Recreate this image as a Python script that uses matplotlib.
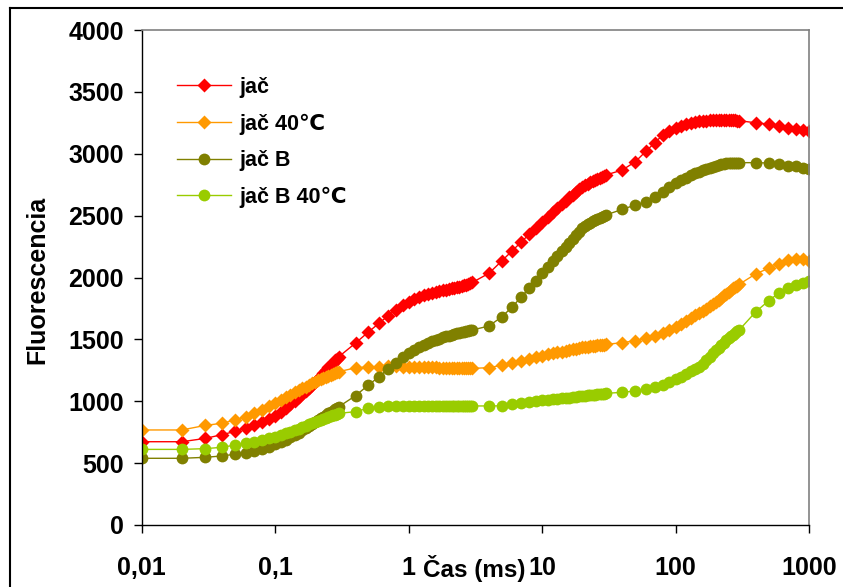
import matplotlib
matplotlib.use("Agg")
import matplotlib.pyplot as plt
from matplotlib.lines import Line2D

plt.rcParams['font.family'] = ['Liberation Sans', 'DejaVu Sans']
plt.rcParams['font.weight'] = 'bold'

# time points (ms)
cas = [0.01, 0.02, 0.03, 0.04, 0.05, 0.06, 0.07, 0.08, 0.09, 0.10,
       0.11, 0.12, 0.13, 0.14, 0.15, 0.16, 0.17, 0.18, 0.19, 0.20,
       0.21, 0.22, 0.23, 0.24, 0.25, 0.26, 0.27, 0.28, 0.29, 0.30,
       0.4, 0.5, 0.6, 0.7, 0.8, 0.9, 1.0, 1.1, 1.2, 1.3, 1.4, 1.5, 1.6, 1.7,
       1.8, 1.9, 2.0, 2.1, 2.2, 2.3, 2.4, 2.5, 2.6, 2.7, 2.8, 2.9, 3.0,
       4, 5, 6, 7, 8, 9, 10, 11, 12, 13, 14, 15, 16, 17, 18, 19, 20,
       21, 22, 23, 24, 25, 26, 27, 28, 29, 30,
       40, 50, 60, 70, 80, 90, 100, 110, 120, 130, 140, 150, 160, 170,
       180, 190, 200, 210, 220, 230, 240, 250, 260, 270, 280, 290, 300,
       400, 500, 600, 700, 800, 900, 1000]

jac = [673, 673, 700, 730, 756, 781, 805, 830, 855, 881,
       913, 944, 975, 1006, 1037, 1062, 1086, 1110, 1134, 1158,
       1183, 1207, 1231, 1255, 1279, 1296, 1313, 1330, 1345, 1360,
       1470, 1560, 1630, 1690, 1740, 1775, 1805, 1825, 1842, 1855, 1866, 1876, 1884, 1891,
       1897, 1902, 1907, 1912, 1917, 1922, 1927, 1932, 1937, 1942, 1948, 1954, 1960,
       2034, 2135, 2218, 2288, 2349, 2402, 2451, 2490, 2528, 2562, 2594, 2622, 2648, 2670, 2692, 2712, 2730,
       2745, 2758, 2770, 2781, 2791, 2800, 2808, 2815, 2822, 2828,
       2869, 2936, 3020, 3090, 3150, 3185, 3210, 3228, 3240, 3250, 3257, 3262, 3266, 3268,
       3270, 3271, 3272, 3272, 3272, 3272, 3271, 3271, 3270, 3270, 3269, 3268, 3267,
       3250, 3240, 3225, 3210, 3200, 3192, 3180]

jac_40 = [768, 768, 805, 822, 848, 875, 902, 932, 960, 988,
          1010, 1031, 1051, 1071, 1091, 1105, 1119, 1132, 1145, 1158,
          1168, 1178, 1187, 1196, 1204, 1212, 1219, 1226, 1233, 1239,
          1270, 1278, 1280, 1281, 1281, 1280, 1279, 1278, 1277, 1276, 1275, 1274, 1273, 1272,
          1271, 1270, 1269, 1268, 1268, 1267, 1267, 1266, 1266, 1265, 1265, 1265, 1265,
          1272, 1290, 1308, 1325, 1340, 1355, 1368, 1378, 1387, 1395, 1402, 1409, 1415, 1421, 1426, 1431, 1435,
          1439, 1442, 1445, 1448, 1450, 1452, 1454, 1456, 1458, 1460,
          1473, 1490, 1508, 1527, 1549, 1575, 1603, 1628, 1652, 1674, 1694, 1713, 1731, 1749,
          1767, 1785, 1803, 1821, 1838, 1855, 1870, 1885, 1899, 1912, 1924, 1935, 1945,
          2030, 2075, 2112, 2140, 2152, 2150, 2135]

jac_b = [539, 539, 547, 558, 572, 585, 598, 614, 632, 652,
         671, 690, 709, 727, 746, 764, 782, 800, 818, 835,
         849, 863, 876, 889, 902, 913, 924, 935, 946, 956,
         1045, 1131, 1198, 1261, 1312, 1355, 1387, 1413, 1436, 1455, 1471, 1485, 1497, 1507,
         1516, 1524, 1531, 1537, 1543, 1548, 1553, 1557, 1561, 1565, 1569, 1572, 1576,
         1608, 1683, 1764, 1845, 1912, 1972, 2034, 2085, 2130, 2172, 2212, 2249, 2282, 2313, 2343, 2370, 2397,
         2415, 2430, 2443, 2455, 2465, 2475, 2484, 2492, 2499, 2505,
         2551, 2586, 2613, 2648, 2694, 2730, 2761, 2786, 2808, 2826, 2842, 2855, 2867, 2877,
         2887, 2896, 2905, 2911, 2916, 2920, 2923, 2925, 2927, 2928, 2928, 2928, 2928,
         2928, 2925, 2918, 2905, 2897, 2888, 2874]

jac_b_40 = [611, 611, 617, 628, 646, 660, 673, 687, 700, 714,
            727, 740, 752, 764, 776, 789, 801, 813, 824, 835,
            844, 852, 860, 868, 875, 881, 887, 892, 897, 902,
            916, 944, 955, 958, 960, 961, 962, 962, 962, 962, 961, 961, 962, 962,
            961, 961, 962, 962, 961, 961, 962, 962, 962, 961, 961, 962, 962,
            962, 963, 975, 983, 992, 1000, 1008, 1013, 1017, 1021, 1024, 1027, 1030, 1033, 1036, 1039, 1042,
            1045, 1047, 1050, 1052, 1054, 1056, 1058, 1060, 1062, 1064,
            1072, 1083, 1097, 1112, 1131, 1152, 1177, 1198, 1220, 1243, 1262, 1279, 1305, 1332,
            1360, 1388, 1414, 1434, 1454, 1473, 1491, 1508, 1524, 1539, 1553, 1565, 1576,
            1724, 1813, 1878, 1912, 1939, 1958, 1970]

x_ticks = [0.01, 0.1, 1, 10, 100, 1000]
x_labels = ['0,01', '0,1', '1', '10', '100', '1000']
y_ticks = [0, 500, 1000, 1500, 2000, 2500, 3000, 3500, 4000]

W, H = 843, 587
fig = plt.figure(figsize=(W / 100, H / 100), dpi=100)
ax = fig.add_axes([141.7 / W, 1 - 525 / H, (809 - 141.7) / W, 495 / H])

ax.plot(cas, jac, color='#FF0000', lw=1, marker='D', ms=6.8, mec='none', label='jač')
ax.plot(cas, jac_40, color='#FF9900', lw=1, marker='D', ms=6.8, mec='none', label='jač 40℃')
ax.plot(cas, jac_b, color='#808000', lw=1, marker='o', ms=8.5, mec='none', label='jač B')
ax.plot(cas, jac_b_40, color='#99CC00', lw=1, marker='o', ms=8.5, mec='none', label='jač B 40℃')

ax.set_xscale('log')
ax.set_xlim(0.01, 1000)
ax.set_ylim(0, 4000)
ax.set_xticks(x_ticks, x_labels)
ax.set_xticks([], minor=True)
ax.set_yticks(y_ticks)
ax.tick_params(axis='both', direction='out', length=6, width=1, labelsize=18)
ax.tick_params(axis='x', pad=16)
ax.tick_params(axis='y', pad=7)

for s in ['left', 'bottom']:
    ax.spines[s].set_color('black')
    ax.spines[s].set_linewidth(1)
for s in ['top', 'right']:
    ax.spines[s].set_color('#808080')
    ax.spines[s].set_linewidth(1.2)

fig.text(474 / W, 1 - 577 / H, 'Čas (ms)', ha='center', va='baseline', fontsize=17.5, fontweight='bold')
fig.text(37 / W, 1 - 280 / H, 'Fluorescencia', ha='center', va='center', rotation=90,
         fontsize=18, fontweight='bold')

ax.legend(loc='upper left', bbox_to_anchor=(0.053, 0.905), frameon=False, fontsize=15.5,
          handlelength=2.5, handletextpad=0.4, labelspacing=0.72, borderpad=0, borderaxespad=0)

# chart area border (cut off at right and bottom)
fig.add_artist(Line2D([10 / W, 10 / W], [0, 1 - 8 / H], color='black', lw=1.5))
fig.add_artist(Line2D([10 / W, 1], [1 - 8 / H, 1 - 8 / H], color='black', lw=1.5))

fig.savefig('out.png', dpi=100)
